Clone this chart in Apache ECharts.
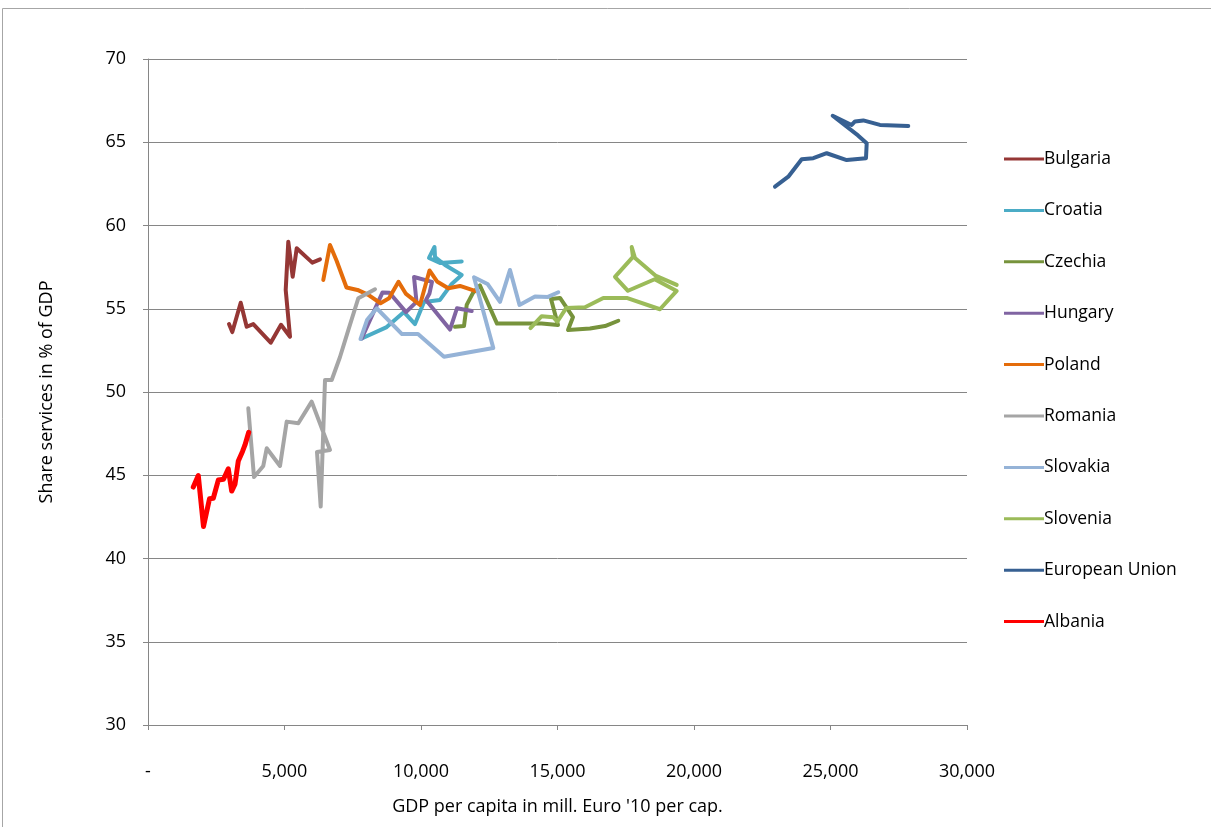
<!DOCTYPE html>
<html>
<head>
<meta charset="utf-8">
<script src="https://cdn.jsdelivr.net/npm/echarts@6/dist/echarts.min.js"></script>
<style>
  html, body { margin: 0; padding: 0; background: #ffffff; }
  #chart { width: 1211px; height: 827px; }
</style>
</head>
<body>
<div id="chart"></div>
<script>
// GDP per capita (EUR 2010 prices) vs. services share of GDP, one path per country
const countryNames = ['Bulgaria', 'Croatia', 'Czechia', 'Hungary', 'Poland', 'Romania', 'Slovakia', 'Slovenia', 'European Union', 'Albania'];
const countryColors = ['#953735', '#4BACC6', '#77933C', '#8064A2', '#E46C0A', '#A5A5A5', '#95B3D7', '#9BBB59', '#376092', '#FF0000'];

const bulgaria = [[2967, 54.08], [3088, 53.6], [3396, 55.36], [3615, 53.92], [3857, 54.08], [4495, 52.96], [4872, 54.04], [5202, 53.32], [5044, 56.13], [5139, 59.03], [5300, 56.92], [5447, 58.63], [6018, 57.77], [6300, 57.97]];
const croatia = [[7828, 53.21], [8744, 53.9], [9377, 54.8], [9780, 54.08], [10110, 55.41], [10696, 55.53], [11125, 56.49], [11491, 57.03], [10879, 57.63], [10513, 58.11], [10494, 58.71], [10293, 58.05], [10696, 57.75], [11491, 57.84]];
const czechia = [[11245, 53.92], [11575, 53.96], [11674, 55.23], [11905, 55.95], [12161, 56.4], [12784, 54.11], [14421, 54.11], [15018, 54.02], [14762, 55.59], [15092, 55.65], [15568, 54.5], [15385, 53.72], [16190, 53.81], [16740, 53.96], [17227, 54.28]];
const hungary = [[7828, 53.22], [8590, 55.98], [8846, 55.96], [9451, 54.8], [9835, 55.41], [9744, 56.91], [10403, 56.61], [10311, 55.92], [10183, 55.53], [11062, 53.75], [11318, 55.03], [11857, 54.86]];
const poland = [[6421, 56.73], [6667, 58.83], [6912, 57.87], [7271, 56.28], [7674, 56.13], [8070, 55.83], [8517, 55.33], [8828, 55.63], [9176, 56.62], [9451, 55.89], [9963, 55.23], [10311, 57.3], [10586, 56.64], [11000, 56.23], [11428, 56.37], [11978, 56.07]];
const romania = [[3674, 49.02], [3883, 44.89], [4223, 45.56], [4348, 46.62], [4835, 45.56], [5081, 48.22], [5506, 48.12], [5996, 49.42], [6667, 46.52], [6190, 46.4], [6326, 43.12], [6484, 50.72], [6729, 50.72], [7033, 52.1], [7337, 53.72], [7703, 55.63], [8315, 56.17]];
const slovakia = [[7784, 53.18], [8022, 54.32], [8377, 55.03], [9304, 53.48], [9890, 53.48], [10842, 52.12], [12649, 52.64], [11941, 56.89], [12436, 56.49], [12894, 55.41], [13260, 57.33], [13608, 55.23], [14176, 55.74], [14652, 55.71], [15029, 55.99]];
const slovenia = [[14011, 53.84], [14421, 54.55], [14846, 54.49], [14993, 54.22], [15322, 55.05], [16007, 55.09], [16678, 55.65], [17535, 55.65], [18754, 54.97], [19366, 56.07], [18560, 56.77], [17582, 56.08], [17106, 56.92], [17765, 58.11], [17718, 58.71], [17839, 58.05], [18608, 56.97], [19366, 56.43]];
const europeanUnion = [[22967, 62.33], [23454, 62.93], [23945, 63.98], [24370, 64.04], [24861, 64.34], [25593, 63.93], [26300, 64.04], [26326, 64.94], [26007, 65.41], [25080, 66.59], [25776, 66.04], [25897, 66.25], [26201, 66.31], [26812, 66.04], [27849, 65.98]];
const albania = [[1659, 44.29], [1842, 44.98], [2033, 41.92], [2253, 43.59], [2392, 43.62], [2575, 44.71], [2766, 44.76], [2941, 45.39], [3066, 44.05], [3187, 44.47], [3308, 45.86], [3462, 46.43], [3553, 46.82], [3689, 47.58]];

const countryData = [bulgaria, croatia, czechia, hungary, poland, romania, slovakia, slovenia, europeanUnion, albania];

const xTicks = { min: 0, max: 30000, interval: 5000 };
const yTicks = { min: 30, max: 70, interval: 5 };

const axisGrey = '#868686';
const fontFamily = '"Open Sans", "Liberation Sans", sans-serif';

const chart = echarts.init(document.getElementById('chart'), null, { renderer: 'canvas' });

const series = countryNames.map((name, i) => ({
  name: name,
  type: 'line',
  data: countryData[i],
  showSymbol: false,
  symbol: 'none',
  smooth: false,
  lineStyle: { color: countryColors[i], width: name === 'Albania' ? 5 : 4, join: 'round', cap: 'round' },
  itemStyle: { color: countryColors[i] },
  emphasis: { disabled: true },
  z: 3
}));

chart.setOption({
  animation: false,
  backgroundColor: '#ffffff',
  graphic: [{
    type: 'rect',
    shape: { x: 2.5, y: 8.5, width: 1220, height: 830 },
    style: { fill: 'none', stroke: '#A6A6A6', lineWidth: 1 },
    silent: true
  }],
  grid: { left: 148, right: 244, top: 59, bottom: 102, containLabel: false },
  legend: {
    orient: 'vertical',
    left: 999,
    top: 144,
    itemWidth: 40,
    itemHeight: 3,
    itemGap: 31.4,
    icon: 'rect',
    textStyle: { fontFamily: fontFamily, fontSize: 17.5, color: '#000000', lineHeight: 20, padding: [0, 0, 0, -5] },
    data: countryNames.map((n, i) => ({ name: n, itemStyle: { color: countryColors[i] } })),
    selectedMode: false
  },
  xAxis: {
    type: 'value',
    min: xTicks.min,
    max: xTicks.max,
    interval: xTicks.interval,
    name: "GDP per capita in mill. Euro '10 per cap.",
    nameLocation: 'middle',
    nameGap: 73,
    nameTextStyle: { fontFamily: fontFamily, fontSize: 18, color: '#000000' },
    axisLine: { show: true, lineStyle: { color: axisGrey, width: 1 } },
    axisTick: { show: true, inside: false, length: 5, lineStyle: { color: axisGrey } },
    splitLine: { show: false },
    axisLabel: {
      margin: 38,
      fontFamily: fontFamily,
      fontSize: 18,
      color: '#000000',
      formatter: v => v === 0 ? '-' : v.toLocaleString('en-US')
    }
  },
  yAxis: {
    type: 'value',
    min: yTicks.min,
    max: yTicks.max,
    interval: yTicks.interval,
    name: 'Share services in % of GDP',
    nameLocation: 'middle',
    nameGap: 92,
    nameRotate: 90,
    nameTextStyle: { fontFamily: fontFamily, fontSize: 18, color: '#000000' },
    axisLine: { show: true, lineStyle: { color: axisGrey, width: 1 } },
    axisTick: { show: true, length: 5, lineStyle: { color: axisGrey } },
    splitLine: { show: true, lineStyle: { color: axisGrey, width: 1 } },
    axisLabel: { margin: 22, fontFamily: fontFamily, fontSize: 18, color: '#000000' }
  },
  series: series
});
</script>
</body>
</html>
